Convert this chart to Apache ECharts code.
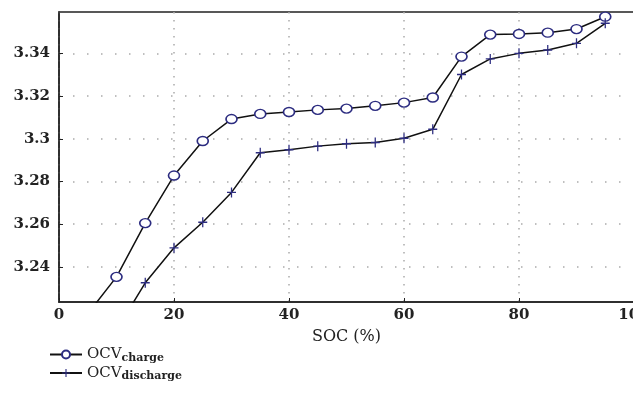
<!DOCTYPE html>
<html>
<head>
<meta charset="utf-8">
<script src="https://cdn.jsdelivr.net/npm/echarts@6/dist/echarts.min.js"></script>
<style>html,body{margin:0;padding:0;background:#fff;}#c{width:633px;height:399px;}</style>
</head>
<body>
<div id="c"></div>
<script>
const soc = [0, 5, 10, 15, 20, 25, 30, 35, 40, 45, 50, 55, 60, 65, 70, 75, 80, 85, 90, 95];
const ocvCharge = [null, 3.218, 3.2353, 3.2605, 3.2828, 3.299, 3.3093, 3.3117, 3.3126, 3.3136, 3.3142, 3.3155, 3.317, 3.3194, 3.3386, 3.3489, 3.3492, 3.3498, 3.3515, 3.3573];
const ocvDischarge = [null, null, 3.2103, 3.2325, 3.2489, 3.2609, 3.2749, 3.2935, 3.2949, 3.2966, 3.2977, 3.2983, 3.3003, 3.3045, 3.3302, 3.3375, 3.3401, 3.3417, 3.3448, 3.3542];
const yTicks = [3.24, 3.26, 3.28, 3.3, 3.32, 3.34];
const xTicks = [0, 20, 40, 60, 80, 100];
const seriesNames = ['OCV_charge', 'OCV_discharge'];

const font = 'DejaVu Serif';
const navy = '#2c2c80';
const chart = echarts.init(document.getElementById('c'));
const pair = (arr) => soc.map((x, i) => [x, arr[i]]);
chart.setOption({
  animation: false,
  backgroundColor: '#fff',
  grid: { left: 59, right: -1, top: 12, bottom: 97, containLabel: false, outerBoundsMode: 'none',
    show: true, borderColor: '#222', borderWidth: 1.5, backgroundColor: 'transparent' },
  xAxis: {
    type: 'value', min: 0, max: 100, interval: 20,
    name: 'SOC (%)', nameLocation: 'middle', nameGap: 27,
    nameTextStyle: { fontFamily: font, fontSize: 16, color: '#222' },
    axisLine: { show: true, lineStyle: { color: '#222', width: 1.5 } },
    axisTick: { show: true, inside: true, length: 4, lineStyle: { color: '#222' } },
    axisLabel: { fontFamily: font, fontSize: 15, fontWeight: 'bold', color: '#222', margin: 6,
      hideOverlap: false, showMaxLabel: true },
    splitLine: { show: true, lineStyle: { color: '#aaa', type: [1.5, 6.5], width: 1.5 } }
  },
  yAxis: {
    type: 'value', min: 3.2235, max: 3.3595,
    axisLine: { show: true, lineStyle: { color: '#222', width: 1.5 } },
    axisTick: { show: true, inside: true, length: 4, lineStyle: { color: '#222' }, customValues: yTicks },
    axisLabel: { fontFamily: font, fontSize: 15, fontWeight: 'bold', color: '#222', margin: 9,
      customValues: yTicks, formatter: v => String(parseFloat(Number(v).toFixed(2))) },
    splitLine: { show: true, lineStyle: { color: '#aaa', type: [1.5, 12.5], width: 1.5 } }
  },
  legend: {
    orient: 'vertical', left: 44, top: 342, itemWidth: 32, itemHeight: 10, itemGap: 2,
    data: seriesNames,
    formatter: n => n === seriesNames[0] ? '{a|OCV}{b|charge}' : '{a|OCV}{b|discharge}',
    textStyle: { rich: {
      a: { fontFamily: font, fontSize: 15, color: '#222' },
      b: { fontFamily: font, fontSize: 11, fontWeight: 'bold', color: '#222', padding: [7, 0, 0, 0] }
    } }
  },
  series: [
    { name: seriesNames[0], type: 'line', data: pair(ocvCharge), clip: true,
      symbol: 'circle', symbolSize: [11, 9],
      lineStyle: { color: '#111', width: 1.5 },
      itemStyle: { color: '#fff', borderColor: navy, borderWidth: 1.5 } },
    { name: seriesNames[1], type: 'line', data: pair(ocvDischarge), clip: true,
      symbol: 'path://M4.3,0h1.4v10h-1.4z M0,4.3h10v1.4h-10z', symbolSize: [9, 10],
      lineStyle: { color: '#111', width: 1.5 },
      itemStyle: { color: navy } }
  ]
});
</script>
</body>
</html>
